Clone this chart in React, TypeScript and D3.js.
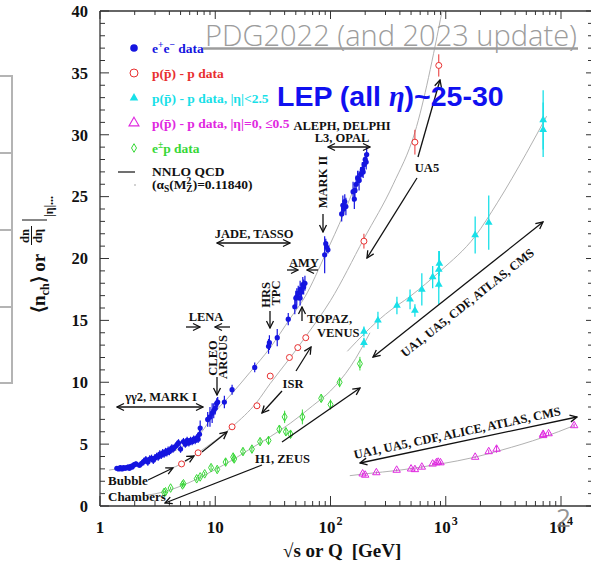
import React from "react";
import * as d3 from "d3";

const W = 591;
const H = 561;

// [sqrt(s) or Q (GeV), multiplicity, error]
const eeData: [number, number, number][] = [
  [1.4, 3.05, 0.15], [1.45, 3.0, 0.15], [1.5, 3.1, 0.15], [1.55, 3.0, 0.15], [1.6, 3.1, 0.15],
  [1.65, 3.05, 0.2], [1.7, 3.1, 0.15], [1.75, 3.15, 0.2], [1.8, 3.05, 0.2], [1.85, 3.2, 0.2],
  [1.9, 3.15, 0.2], [1.95, 3.3, 0.2], [2.0, 3.35, 0.2], [2.05, 3.4, 0.2], [2.2, 3.3, 0.2],
  [2.3, 3.45, 0.25], [2.4, 3.6, 0.3], [2.5, 3.75, 0.3], [2.6, 3.55, 0.3], [2.7, 3.8, 0.3],
  [2.8, 3.85, 0.3], [2.9, 3.7, 0.3], [3.0, 3.9, 0.3], [3.1, 4.0, 0.3], [3.2, 3.95, 0.3],
  [3.3, 4.2, 0.3], [3.4, 4.1, 0.3], [3.5, 4.3, 0.3], [3.6, 4.2, 0.3], [3.7, 4.4, 0.3],
  [3.8, 4.3, 0.3], [3.9, 4.5, 0.3], [4.0, 4.4, 0.3], [4.1, 4.55, 0.3], [4.2, 4.7, 0.3],
  [4.3, 4.6, 0.3], [4.5, 4.8, 0.3], [4.7, 5.0, 0.3], [4.8, 5.1, 0.3], [5.0, 4.6, 0.3],
  [5.3, 5.2, 0.3], [5.5, 5.0, 0.3], [5.7, 5.3, 0.3], [5.9, 5.1, 0.3], [6.1, 5.3, 0.3],
  [6.3, 5.2, 0.3], [6.5, 5.4, 0.3], [6.7, 5.3, 0.3], [6.9, 5.5, 0.3], [7.1, 5.4, 0.3],
  [7.3, 5.8, 0.4], [7.4, 6.3, 0.6], [8.6, 7.0, 0.6], [9.0, 7.2, 0.8], [9.4, 7.5, 0.8],
  [9.7, 7.7, 0.6], [10.0, 7.9, 0.5], [10.3, 8.3, 0.4], [10.5, 8.4, 0.4], [12.0, 8.4, 0.5],
  [14.0, 9.4, 0.4], [22.0, 11.2, 0.4], [29.0, 12.9, 0.6], [29.5, 13.2, 0.6], [34.5, 13.6, 0.7],
  [43.0, 15.1, 0.5], [49, 16.1, 0.6], [50, 16.8, 0.6], [51, 16.9, 0.7], [52.5, 17.2, 0.6],
  [54.5, 17.5, 0.7], [54.5, 16.8, 0.6], [56, 17.3, 0.6], [57.5, 17.9, 0.6], [58.5, 17.7, 0.6],
  [60, 18.0, 0.6], [89, 20.3, 1.5], [91, 21.2, 0.4], [93, 20.9, 0.3], [95, 20.7, 0.3],
  [125, 23.6, 0.6], [128, 24.3, 0.8], [130, 24.0, 0.5], [133, 24.6, 0.6], [136, 24.2, 0.7],
  [157, 25.4, 0.8], [161, 24.8, 0.8], [163, 25.5, 0.6], [167, 26.0, 0.7], [172, 26.5, 0.6],
  [177, 26.3, 0.8], [183, 26.8, 0.6], [189, 27.2, 0.6], [192, 27.0, 0.5], [196, 27.6, 0.6],
  [200, 28.0, 0.5], [204, 27.8, 0.6], [206, 28.4, 0.6],
];

const ppData: [number, number, number][] = [
  [5.1, 3.4, 0.1], [7.1, 4.3, 0.1], [14, 6.4, 0.1], [23, 8.1, 0.1], [30, 10.5, 0.1],
  [44, 12.0, 0.1], [52, 12.8, 0.1], [61, 13.6, 0.1], [195, 21.4, 0.6], [540, 29.4, 1.0],
  [870, 35.6, 0.9],
];

const ppEta25Data: [number, number, number][] = [
  [195, 14.1, 0.4], [195, 13.2, 0.4], [258, 15.0, 0.7], [377, 16.2, 0.7], [490, 16.7, 0.8],
  [540, 15.8, 0.5], [620, 17.5, 1.3], [770, 18.5, 0.9], [870, 19.1, 1.5], [870, 17.9, 1.6],
  [880, 19.6, 1.0], [1800, 21.9, 1.5], [2360, 22.9, 2.2], [7000, 31.2, 2.4], [7000, 30.4, 2.2],
];

const ppEta0Data: [number, number, number][] = [
  [190, 2.6, 0.1], [200, 2.5, 0.1], [250, 2.7, 0.1], [375, 2.9, 0.1], [500, 3.0, 0.1],
  [540, 2.95, 0.1], [620, 3.15, 0.15], [770, 3.4, 0.1], [830, 3.5, 0.1], [860, 3.55, 0.1],
  [900, 3.5, 0.1], [1800, 3.95, 0.1], [2360, 4.4, 0.15], [2760, 4.6, 0.3], [7000, 5.7, 0.15],
  [7000, 5.8, 0.1], [7800, 5.85, 0.15], [13000, 6.5, 0.15],
];

const epData: [number, number, number][] = [
  [3.6, 1.1, 0.1], [3.7, 1.15, 0.1], [4.1, 1.45, 0.1], [5.2, 1.7, 0.15], [5.3, 1.8, 0.15],
  [6.9, 2.2, 0.15], [7.4, 2.35, 0.15], [8.1, 2.6, 0.15], [9.2, 3.1, 0.2], [10.4, 2.95, 0.2],
  [12.3, 3.55, 0.3], [14.3, 3.95, 0.35], [14.6, 3.8, 0.3], [17.4, 4.4, 0.3], [20.8, 4.6, 0.3],
  [24.5, 5.2, 0.3], [29, 5.3, 0.3], [36, 6.2, 0.3], [40, 7.2, 0.5], [41, 6.0, 0.3],
  [45, 5.8, 0.3], [57, 7.2, 0.6], [83, 8.7, 0.3], [100, 8.2, 0.4], [120, 10.0, 0.4],
  [180, 11.5, 0.55],
];

// curves (NNLO QCD / fits)
const eeCurve: [number, number][] = [
  [1.2, 2.9], [2, 3.3], [3, 3.85], [5, 4.7], [7.5, 5.9], [10, 7.6], [14, 9.1], [20, 10.8],
  [30, 12.8], [45, 15.2], [60, 16.9], [91, 20.4], [130, 23.6], [210, 28.6],
];
const ppCurve: [number, number][] = [
  [4, 3.0], [5.1, 3.4], [7.1, 4.3], [14, 6.4], [23, 8.4], [30, 9.9], [44, 11.9], [61, 13.7],
  [100, 16.6], [195, 21.6], [350, 26.0], [540, 30.2], [930, 40],
];
const eta25Curve: [number, number][] = [
  [140, 12.5], [200, 14.0], [300, 15.5], [500, 17.0], [900, 19.0], [1800, 21.8], [2800, 24.5],
  [5000, 28.5], [7500, 31.5],
];
const eta0Curve: [number, number][] = [
  [147, 2.45], [200, 2.6], [400, 2.9], [900, 3.4], [1800, 3.95], [3000, 4.5], [7000, 5.55],
  [13000, 6.5],
];
const epCurve: [number, number][] = [
  [2.5, 0.85], [3.6, 1.15], [5, 1.6], [7, 2.2], [10, 2.95], [14, 3.7], [20, 4.6], [30, 5.6],
  [45, 6.7], [70, 8.1], [100, 9.3], [150, 11.3], [220, 14.0],
];

const xMajor = [1, 10, 100, 1000, 10000];
const xLabelBase = ["1", "10", "10", "10", "10"];
const xLabelExp = ["", "", "2", "3", "4"];
const yMajor = [0, 5, 10, 15, 20, 25, 30, 35, 40];

const serif = "'Liberation Serif', 'Times New Roman', serif";
const BLUE = "#1515e0";
const RED = "#e83030";
const CYAN = "#18e0e8";
const MAGENTA = "#e028e0";
const GREEN = "#38d838";
const CURVE = "#a8a8a8";

const triPath = d3.symbol(d3.symbolTriangle, 26)() as string;
const triOpen = d3.symbol(d3.symbolTriangle, 24)() as string;
const diamond = "M0,-4.3L2.5,0L0,4.3L-2.5,0Z";

// annotation arrows: x1,y1 -> x2,y2 ; both = heads at both ends
const arrows: { a: number[]; both?: boolean }[] = [
  { a: [117, 407, 203, 407], both: true },
  { a: [186, 327, 200, 327] },
  { a: [230, 327, 215, 327] },
  { a: [217, 377, 217, 395] },
  { a: [217, 243, 290, 243], both: true },
  { a: [270, 311, 270, 328] },
  { a: [287, 270, 298, 270] },
  { a: [318, 270, 307, 270] },
  { a: [323, 214, 323, 232] },
  { a: [328, 147, 370, 147], both: true },
  { a: [302, 321, 302, 307] },
  { a: [282, 391, 262, 413] },
  { a: [296, 371, 311, 347] },
  { a: [418, 157, 440, 80] },
  { a: [417, 178, 367, 258] },
  { a: [373, 357, 543, 222], both: true },
  { a: [360, 463, 577, 417], both: true },
  { a: [262, 465, 165, 503] },
  { a: [282, 442, 360, 388] },
  { a: [148, 480, 173, 468] },
  { a: [185, 461, 194, 456] },
  { a: [202, 452, 227, 432] },
];

const labels: { t: string; x: number; y: number; anchor?: string; rot?: number; size?: number }[] = [
  { t: "γγ2, MARK I", x: 161, y: 401, anchor: "middle" },
  { t: "LENA", x: 206, y: 321, anchor: "middle" },
  { t: "JADE, TASSO", x: 254, y: 238, anchor: "middle" },
  { t: "AMY", x: 304, y: 267, anchor: "middle" },
  { t: "ALEPH, DELPHI", x: 342, y: 130, anchor: "middle" },
  { t: "L3, OPAL", x: 342, y: 142, anchor: "middle" },
  { t: "TOPAZ,", x: 307, y: 323 },
  { t: "VENUS", x: 317, y: 337 },
  { t: "ISR", x: 293, y: 388, anchor: "middle" },
  { t: "UA5", x: 427, y: 172, anchor: "middle" },
  { t: "H1, ZEUS", x: 255, y: 463 },
  { t: "Bubble", x: 108, y: 485, size: 13 },
  { t: "Chambers", x: 108, y: 501, size: 13 },
  { t: "CLEO", x: 217, y: 358, anchor: "middle", rot: -90 },
  { t: "ARGUS", x: 227, y: 357, anchor: "middle", rot: -90 },
  { t: "HRS", x: 270, y: 295, anchor: "middle", rot: -90 },
  { t: "TPC", x: 280, y: 293, anchor: "middle", rot: -90 },
  { t: "MARK II", x: 327, y: 182, anchor: "middle", rot: -90 },
  { t: "UA1, UA5, CDF, ATLAS, CMS", x: 470, y: 306, anchor: "middle", rot: -38.5 },
  { t: "UA1, UA5, CDF, ALICE, ATLAS, CMS", x: 458, y: 437, anchor: "middle", rot: -12 },
];

export default function App() {
  const x = d3.scaleLog().domain([1, 1e4]).range([100, 561]);
  const y = d3.scaleLinear().domain([0, 40]).range([506, 11]);
  const xRight = 590;
  const xMinor = d3
    .scaleLog()
    .domain([1, x.invert(xRight)])
    .ticks()
    .filter((v) => x(v) < xRight);
  const yMinor = d3.range(0, 41);

  const line = d3
    .line<[number, number]>()
    .x((d) => x(d[0]))
    .y((d) => y(d[1]))
    .curve(d3.curveMonotoneX);

  const errBars = (data: [number, number, number][], color: string, w = 1) =>
    data.map((d, i) => (
      <line key={i} x1={x(d[0])} x2={x(d[0])} y1={y(d[1] - d[2])} y2={y(d[1] + d[2])} stroke={color} strokeWidth={w} />
    ));

  const axisColor = "#333";
  const x0 = x(1);
  const yTop = y(40);
  const yBot = y(0);

  return (
    <svg width={W} height={H} style={{ position: "absolute", left: 0, top: 0, background: "#fff" }}>
      <defs>
        <marker id="ah" viewBox="-9 -5 10 10" refX="0" refY="0" markerWidth="10" markerHeight="10"
          markerUnits="userSpaceOnUse" orient="auto-start-reverse">
          <path d="M-7,-3.5L0,0L-7,3.5" fill="none" stroke="#111" strokeWidth={1.3} />
        </marker>
      </defs>

      {/* slide boxes on the left */}
      <g stroke="#b4b4b4" strokeWidth={2} fill="none">
        <line x1={12} x2={12} y1={75} y2={384} />
        {[76, 153, 230, 307, 383].map((v) => (
          <line key={v} x1={0} x2={12} y1={v} y2={v} />
        ))}
      </g>

      {/* frame */}
      <g stroke={axisColor} strokeWidth={1.3}>
        <line x1={x0} x2={x0} y1={yTop} y2={yBot} />
        <line x1={x0} x2={W} y1={yBot} y2={yBot} />
        <line x1={x0} x2={W} y1={yTop} y2={yTop} />
      </g>
      <g stroke={axisColor} strokeWidth={1}>
        {xMinor.map((v) => {
          const maj = xMajor.includes(v);
          return (
            <g key={v}>
              <line x1={x(v)} x2={x(v)} y1={yBot} y2={yBot - (maj ? 10 : 5)} />
              <line x1={x(v)} x2={x(v)} y1={yTop} y2={yTop + (maj ? 8 : 4)} />
            </g>
          );
        })}
        {yMinor.map((v) => {
          const maj = v % 5 === 0;
          return (
            <g key={v}>
              <line x1={x0} x2={x0 + (maj ? 9 : 5)} y1={y(v)} y2={y(v)} />
              <line x1={xRight + 1} x2={xRight + 1 - (maj ? 5 : 3)} y1={y(v)} y2={y(v)} />
            </g>
          );
        })}
      </g>

      {/* tick labels */}
      <g fontFamily={serif} fontWeight="bold" fontSize={16.5} fill="#111">
        {yMajor.map((v) => (
          <text key={v} x={88} y={y(v)} dy="0.35em" textAnchor="end">{v}</text>
        ))}
        {xMajor.map((v, i) => (
          <text key={v} x={x(v)} y={533} textAnchor="middle" fontSize={17}>
            {xLabelBase[i]}
            {xLabelExp[i] && (
              <tspan dx={1} dy={-8} fontSize={12}>{xLabelExp[i]}</tspan>
            )}
          </text>
        ))}
        <text x={283} y={557} fontSize={19}>
          √s or Q<tspan dx={9}>[GeV]</tspan>
        </text>
      </g>

      {/* y axis title */}
      <g transform="translate(45,313) rotate(-90)" fontFamily={serif} fontWeight="bold" fill="#111">
        <text x={0} y={0} fontSize={19}>
          ⟨n<tspan fontSize={12} dy={4}>ch</tspan>
          <tspan dy={-4}>⟩ or</tspan>
        </text>
        <text x={77} y={-16} fontSize={12.5} textAnchor="middle">dn</text>
        <line x1={68} x2={87} y1={-13.5} y2={-13.5} stroke="#111" strokeWidth={1} />
        <text x={77} y={-3} fontSize={12.5} textAnchor="middle">dη</text>
        <line x1={93} x2={93} y1={-23} y2={2} stroke="#111" strokeWidth={1} />
        <text x={96} y={8} fontSize={12}>|η|...</text>
      </g>

      {/* curves */}
      <g fill="none" stroke={CURVE} strokeWidth={0.9}>
        <path d={line(eeCurve) as string} />
        <path d={line(ppCurve) as string} />
        <path d={line(eta25Curve) as string} />
        <path d={line(eta0Curve) as string} />
        <path d={line(epCurve) as string} />
      </g>

      {/* data */}
      <g>
        {errBars(epData, GREEN)}
        {epData.map((d, i) => (
          <path key={i} d={diamond} transform={`translate(${x(d[0])},${y(d[1])})`} fill="none" stroke={GREEN} strokeWidth={1} />
        ))}
        {errBars(ppEta0Data, MAGENTA)}
        {ppEta0Data.map((d, i) => (
          <path key={i} d={triOpen} transform={`translate(${x(d[0])},${y(d[1])})`} fill="none" stroke={MAGENTA} strokeWidth={1} />
        ))}
        {errBars(ppEta25Data, CYAN, 1.3)}
        {ppEta25Data.map((d, i) => (
          <path key={i} d={triPath} transform={`translate(${x(d[0])},${y(d[1])})`} fill={CYAN} />
        ))}
        {errBars(ppData, RED)}
        {ppData.map((d, i) => (
          <circle key={i} cx={x(d[0])} cy={y(d[1])} r={3} fill="#fff" stroke={RED} strokeWidth={1} />
        ))}
        {errBars(eeData, BLUE, 1.2)}
        {eeData.map((d, i) => (
          <circle key={i} cx={x(d[0])} cy={y(d[1])} r={2.6} fill={BLUE} />
        ))}
      </g>

      {/* annotations */}
      <g stroke="#111" strokeWidth={1.3} fill="none">
        {arrows.map((r, i) => (
          <line key={i} x1={r.a[0]} y1={r.a[1]} x2={r.a[2]} y2={r.a[3]} markerEnd="url(#ah)"
            markerStart={r.both ? "url(#ah)" : undefined} />
        ))}
      </g>
      <g fontFamily={serif} fontWeight="bold" fontSize={12.5} fill="#111">
        {labels.map((l, i) => (
          <text key={i} fontSize={l.size ?? 12.5} textAnchor={(l.anchor as any) ?? "start"}
            transform={`translate(${l.x},${l.y})${l.rot ? ` rotate(${l.rot})` : ""}`}>
            {l.t}
          </text>
        ))}
      </g>

      {/* legend */}
      <g fontFamily={serif} fontWeight="bold" fontSize={13.5}>
        <circle cx={134} cy={48} r={3.8} fill={BLUE} />
        <text x={152} y={53} fill={BLUE}>
          e<tspan dy={-5} fontSize={9.5}>+</tspan>
          <tspan dy={5}>e</tspan>
          <tspan dy={-5} fontSize={9.5}>−</tspan>
          <tspan dy={5}> data</tspan>
        </text>
        <circle cx={134} cy={73} r={4} fill="none" stroke={RED} strokeWidth={1} />
        <text x={152} y={78} fill={RED}>p(p̄) - p data</text>
        <path d={triPath} transform="translate(134,98) scale(1.1)" fill={CYAN} />
        <text x={152} y={103} fill={CYAN}>p(p̄) - p data, |η|&lt;2.5</text>
        <path d={triOpen} transform="translate(134,123) scale(1.35)" fill="none" stroke={MAGENTA} strokeWidth={0.8} />
        <text x={152} y={128} fill={MAGENTA}>p(p̄) - p data, |η|=0, ≤0.5</text>
        <path d={diamond} transform="translate(134,148)" fill="none" stroke={GREEN} strokeWidth={1} />
        <text x={152} y={153} fill={GREEN}>
          e<tspan dy={-5} fontSize={9.5}>±</tspan>
          <tspan dy={5}>p data</tspan>
        </text>
        <line x1={118} x2={135} y1={172} y2={172} stroke="#111" strokeWidth={1.2} />
        <text x={152} y={176} fill="#111">NNLO QCD</text>
        <circle cx={135} cy={185} r={0.8} fill="#999" />
        <text x={152} y={189} fill="#111">
          (α<tspan dy={3} fontSize={9.5}>S</tspan>
          <tspan dy={-3}>(M</tspan>
          <tspan dy={-5} fontSize={9.5}>2</tspan>
          <tspan dx={-5} dy={8} fontSize={9.5}>Z</tspan>
          <tspan dy={-3}>)=0.11840)</tspan>
        </text>
      </g>

      {/* slide overlays */}
      <text x={205} y={46} fontFamily="'Open Sans', sans-serif" fontWeight={300} fontSize={29}
        fill="#9c9c9c" textLength={372} lengthAdjust="spacingAndGlyphs">
        PDG2022 (and 2023 update)
      </text>
      <line x1={203} x2={578} y1={48.5} y2={48.5} stroke="#9c9c9c" strokeWidth={2.5} />
      <text x={277} y={106} fontFamily="'Liberation Sans', Arial, sans-serif" fontWeight="bold" fontSize={28.5}
        fill="#1010f0">
        LEP (all <tspan fontFamily={serif} fontStyle="italic">η</tspan>)~25-30
      </text>
      <text x={556} y={527} fontFamily="'Open Sans', sans-serif" fontSize={26} fill="#777" fillOpacity={0.8}>
        2
      </text>
    </svg>
  );
}
